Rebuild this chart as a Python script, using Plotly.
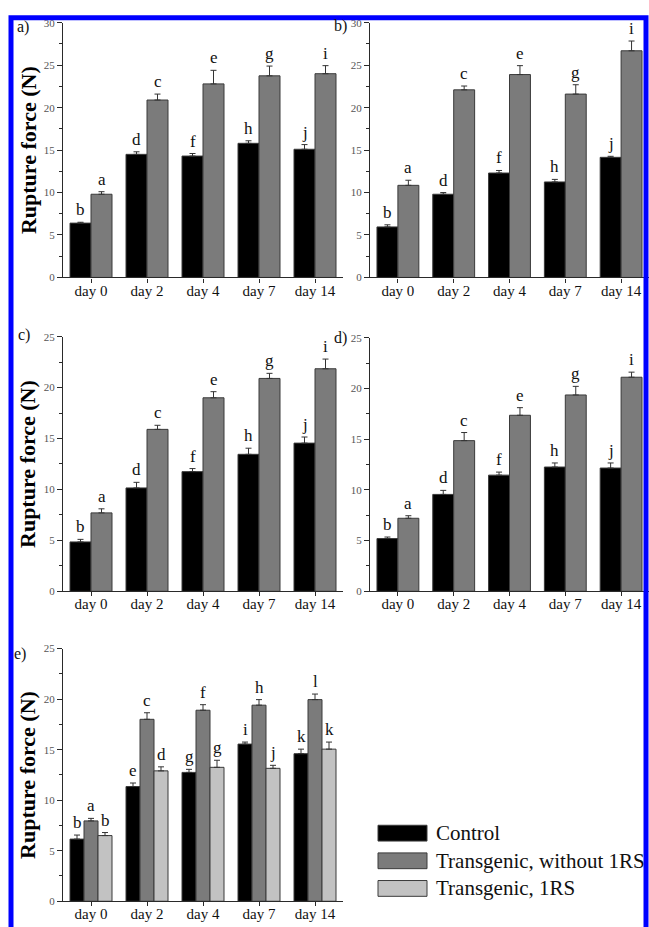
import plotly.graph_objects as go

# ---------------- data ----------------
days = ["day 0", "day 2", "day 4", "day 7", "day 14"]
series_names = ["Control", "Transgenic, without 1RS", "Transgenic, 1RS"]
series_colors = ["#000000", "#7b7b7b", "#c2c2c2"]

# panel a
a_control = [6.4, 14.5, 14.3, 15.8, 15.1]
a_control_err = [0.1, 0.3, 0.3, 0.3, 0.55]
a_trans = [9.8, 20.9, 22.8, 23.75, 24.0]
a_trans_err = [0.3, 0.7, 1.6, 1.15, 0.95]
a_control_letters = ["b", "d", "f", "h", "j"]
a_trans_letters = ["a", "c", "e", "g", "i"]

# panel b
b_control = [5.95, 9.8, 12.3, 11.25, 14.15]
b_control_err = [0.25, 0.2, 0.3, 0.3, 0.12]
b_trans = [10.85, 22.1, 23.9, 21.6, 26.7]
b_trans_err = [0.6, 0.45, 1.05, 1.1, 1.15]
b_control_letters = ["b", "d", "f", "h", "j"]
b_trans_letters = ["a", "c", "e", "g", "i"]

# panel c
c_control = [4.85, 10.15, 11.75, 13.45, 14.55]
c_control_err = [0.25, 0.55, 0.3, 0.6, 0.6]
c_trans = [7.7, 15.9, 19.0, 20.9, 21.85]
c_trans_err = [0.4, 0.4, 0.6, 0.5, 0.95]
c_control_letters = ["b", "d", "f", "h", "j"]
c_trans_letters = ["a", "c", "e", "g", "i"]

# panel d
d_control = [5.2, 9.55, 11.45, 12.25, 12.15]
d_control_err = [0.15, 0.4, 0.3, 0.4, 0.5]
d_trans = [7.2, 14.85, 17.35, 19.35, 21.1]
d_trans_err = [0.25, 0.8, 0.75, 0.85, 0.5]
d_control_letters = ["b", "d", "f", "h", "j"]
d_trans_letters = ["a", "c", "e", "g", "i"]

# panel e
e_control = [6.15, 11.35, 12.75, 15.55, 14.6]
e_control_err = [0.4, 0.35, 0.3, 0.2, 0.45]
e_trans = [7.95, 18.0, 18.9, 19.4, 19.95]
e_trans_err = [0.25, 0.65, 0.55, 0.55, 0.55]
e_trans1rs = [6.5, 12.9, 13.25, 13.15, 15.05]
e_trans1rs_err = [0.3, 0.4, 0.7, 0.3, 0.7]
e_control_letters = ["b", "e", "g", "i", "k"]
e_trans_letters = ["a", "c", "f", "h", "l"]
e_trans1rs_letters = ["b", "d", "g", "j", "k"]

y_title = "Rupture force (N)"
panel_tags = ["a)", "b)", "c)", "d)", "e)"]

# ---------------- layout helpers ----------------
W, H = 649, 927
SERIF = "Liberation Serif, Times New Roman, serif"
AXIS_COLOR = "#2a2a2a"
BARGAP = 0.25


def px_x(p):
    return p / W


def px_y(p):
    return 1 - p / H


panels = [
    dict(series=[(a_control, a_control_err, a_control_letters),
                 (a_trans, a_trans_err, a_trans_letters)],
         xpx=(63, 343), ypx=(17, 275), ymax=30, title=True, tag=(15, 21)),
    dict(series=[(b_control, b_control_err, b_control_letters),
                 (b_trans, b_trans_err, b_trans_letters)],
         xpx=(370, 649), ypx=(17, 275), ymax=30, title=False, tag=(332, 20)),
    dict(series=[(c_control, c_control_err, c_control_letters),
                 (c_trans, c_trans_err, c_trans_letters)],
         xpx=(63, 343), ypx=(335, 593), ymax=25, title=True, tag=(16, 333)),
    dict(series=[(d_control, d_control_err, d_control_letters),
                 (d_trans, d_trans_err, d_trans_letters)],
         xpx=(370, 649), ypx=(336, 593), ymax=25, title=False, tag=(332, 336)),
    dict(series=[(e_control, e_control_err, e_control_letters),
                 (e_trans, e_trans_err, e_trans_letters),
                 (e_trans1rs, e_trans1rs_err, e_trans1rs_letters)],
         xpx=(63, 343), ypx=(651, 907), ymax=25, title=True, tag=(12, 656)),
]

fig = go.Figure()
annotations = []
layout_axes = {}

for i, p in enumerate(panels):
    n = i + 1
    xa = "x" if n == 1 else f"x{n}"
    ya = "y" if n == 1 else f"y{n}"
    xkey = "xaxis" if n == 1 else f"xaxis{n}"
    ykey = "yaxis" if n == 1 else f"yaxis{n}"
    nser = len(p["series"])
    bw = (1 - BARGAP) / nser
    for k, (vals, errs, letters) in enumerate(p["series"]):
        fig.add_trace(go.Bar(
            x=days, y=vals, name=series_names[k],
            xaxis=xa, yaxis=ya, offsetgroup=str(k),
            marker=dict(color=series_colors[k], line=dict(color="#3a3a3a", width=1)),
            error_y=dict(type="data", array=errs, arrayminus=[0] * len(errs),
                         symmetric=False, color="#333333", thickness=1, width=3),
            showlegend=False,
        ))
        off = -(1 - BARGAP) / 2 + (k + 0.5) * bw
        for j, (v, e, lt) in enumerate(zip(vals, errs, letters)):
            annotations.append(dict(
                x=j + off, y=v + e, xref=xa, yref=ya, text=lt, showarrow=False,
                yanchor="bottom", xanchor="center", yshift=1,
                font=dict(family=SERIF, size=17, color="#111111"),
            ))
    layout_axes[xkey] = dict(
        domain=[px_x(p["xpx"][0]), px_x(p["xpx"][1])],
        anchor=ya, type="category", range=[-0.5, 4.5],
        showline=True, linecolor=AXIS_COLOR, linewidth=1.2,
        ticks="outside", ticklen=4, tickcolor=AXIS_COLOR,
        minor=dict(ticks="outside", ticklen=3, tickcolor=AXIS_COLOR, tick0=0.5, dtick=1),
        ticklabelstandoff=-5,
        tickfont=dict(family=SERIF, size=15, color="#111111"),
        showgrid=False, zeroline=False, fixedrange=True,
    )
    layout_axes[ykey] = dict(
        domain=[px_y(p["ypx"][1]), px_y(p["ypx"][0])],
        anchor=xa, range=[0, p["ymax"]], dtick=5,
        showline=True, linecolor=AXIS_COLOR, linewidth=1.2,
        ticks="outside", ticklen=5, tickcolor=AXIS_COLOR,
        minor=dict(dtick=2.5, ticks="outside", ticklen=3, tickcolor=AXIS_COLOR),
        tickfont=dict(family=SERIF, size=11, color="#555555"),
        showgrid=False, zeroline=False, fixedrange=True,
    )
    if p["title"]:
        annotations.append(dict(
            x=px_x(28), y=(px_y(p["ypx"][0]) + px_y(p["ypx"][1])) / 2,
            xref="paper", yref="paper", text=f"<b>{y_title}</b>", textangle=-90,
            showarrow=False, xanchor="center", yanchor="middle",
            font=dict(family=SERIF, size=22, color="#000000"),
        ))
    annotations.append(dict(
        x=px_x(p["tag"][0]), y=px_y(p["tag"][1]), xref="paper", yref="paper",
        text=panel_tags[i], showarrow=False, xanchor="left", yanchor="middle",
        font=dict(family=SERIF, size=16, color="#111111"),
    ))

# manual legend (wide swatches like the original)
shapes = []
legend_rows = [838, 866, 894]
for k, name in enumerate(series_names):
    yc = legend_rows[k]
    shapes.append(dict(type="rect", xref="paper", yref="paper",
                       x0=px_x(378), x1=px_x(427), y0=px_y(yc + 8), y1=px_y(yc - 8),
                       fillcolor=series_colors[k], line=dict(color="#3a3a3a", width=1)))
    annotations.append(dict(
        x=px_x(434), y=px_y(yc), xref="paper", yref="paper", text=name,
        showarrow=False, xanchor="left", yanchor="middle",
        font=dict(family=SERIF, size=21, color="#111111"),
    ))

# blue frame around the figure
shapes.append(dict(type="rect", xref="paper", yref="paper",
                   x0=px_x(11), x1=px_x(646), y0=-0.05, y1=px_y(12),
                   line=dict(color="#0000ff", width=5), fillcolor="rgba(0,0,0,0)",
                   layer="above"))

fig.update_layout(
    width=W, height=H, margin=dict(l=0, r=0, t=0, b=0),
    paper_bgcolor="white", plot_bgcolor="white",
    barmode="group", bargap=BARGAP, bargroupgap=0,
    annotations=annotations, shapes=shapes, showlegend=False,
    **layout_axes,
)

fig.write_html(
    "out.html",
    config={"displayModeBar": False},
    post_script="document.body.style.margin='0';document.body.style.overflow='hidden';",
)
